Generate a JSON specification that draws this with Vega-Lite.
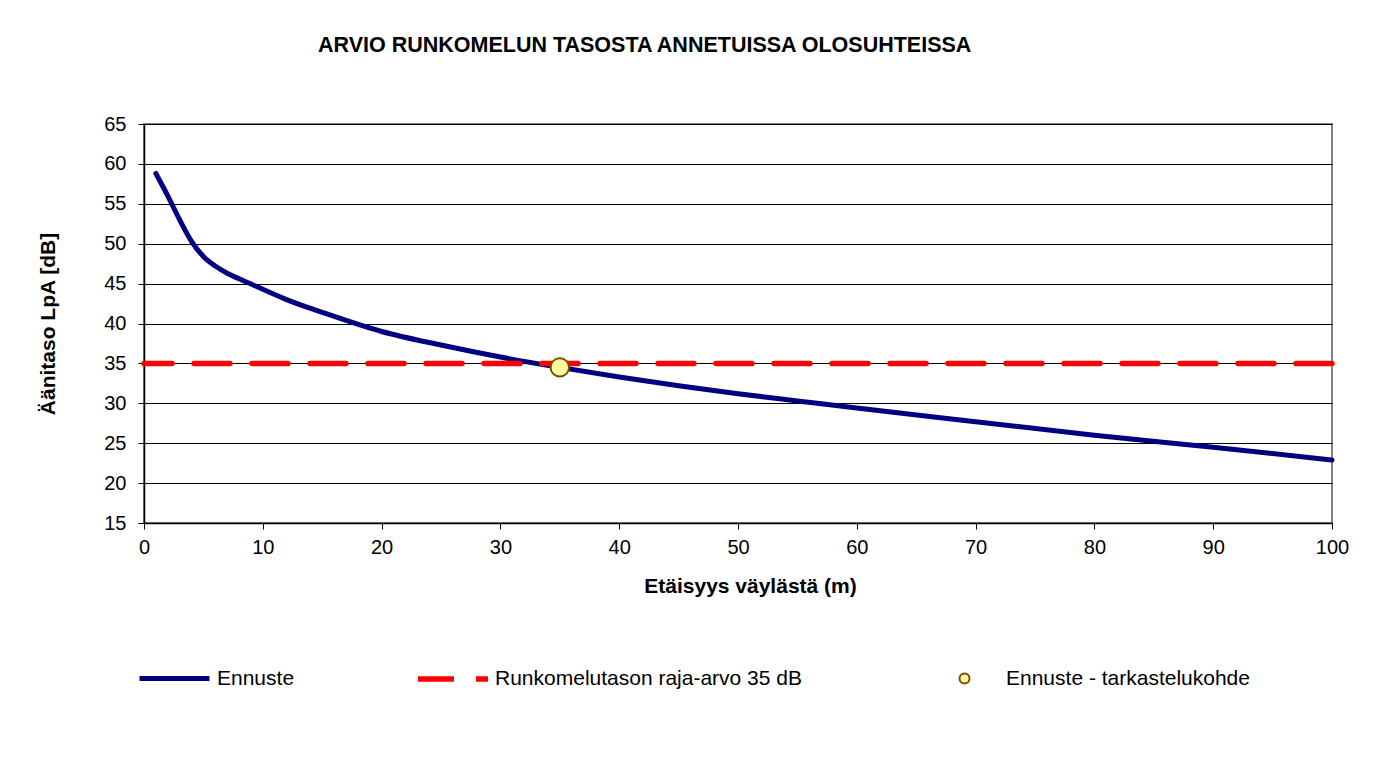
{
  "$schema": "https://vega.github.io/schema/vega-lite/v6.json",
  "autosize": {"type": "none"},
  "width": 1188,
  "height": 399,
  "padding": {"left": 144, "top": 124, "right": 56, "bottom": 236},
  "background": "#ffffff",
  "config": {
    "font": "Liberation Sans",
    "view": {"stroke": "#808080", "strokeWidth": 2},
    "axis": {
      "labelFont": "Liberation Sans",
      "labelFontSize": 20,
      "labelColor": "#000000",
      "labelFlush": false,
      "labelOverlap": false,
      "titleFont": "Liberation Sans",
      "titleFontSize": 21,
      "titleFontWeight": "bold",
      "titleColor": "#000000",
      "domainColor": "#000000",
      "domainWidth": 1.5,
      "tickColor": "#000000",
      "tickSize": 6,
      "gridColor": "#000000",
      "gridWidth": 1
    },
    "legend": {
      "labelFont": "Liberation Sans",
      "labelFontSize": 21,
      "labelColor": "#000000",
      "labelLimit": 600
    }
  },
  "title": {
    "text": "ARVIO RUNKOMELUN TASOSTA ANNETUISSA OLOSUHTEISSA",
    "anchor": "start",
    "frame": "group",
    "dx": 174,
    "offset": 58,
    "font": "Liberation Sans",
    "fontSize": 21.5,
    "fontWeight": "bold",
    "color": "#000000"
  },
  "layer": [
    {
      "data": {"values": [
        {"x": 1, "y": 58.8, "series": "Ennuste"},
        {"x": 2, "y": 56.0, "series": "Ennuste"},
        {"x": 3, "y": 53.0, "series": "Ennuste"},
        {"x": 4, "y": 50.3, "series": "Ennuste"},
        {"x": 5, "y": 48.4, "series": "Ennuste"},
        {"x": 6, "y": 47.2, "series": "Ennuste"},
        {"x": 7, "y": 46.3, "series": "Ennuste"},
        {"x": 8, "y": 45.6, "series": "Ennuste"},
        {"x": 10, "y": 44.3, "series": "Ennuste"},
        {"x": 12, "y": 43.0, "series": "Ennuste"},
        {"x": 15, "y": 41.4, "series": "Ennuste"},
        {"x": 20, "y": 39.0, "series": "Ennuste"},
        {"x": 25, "y": 37.3, "series": "Ennuste"},
        {"x": 30, "y": 35.8, "series": "Ennuste"},
        {"x": 35, "y": 34.5, "series": "Ennuste"},
        {"x": 40, "y": 33.3, "series": "Ennuste"},
        {"x": 45, "y": 32.2, "series": "Ennuste"},
        {"x": 50, "y": 31.2, "series": "Ennuste"},
        {"x": 55, "y": 30.3, "series": "Ennuste"},
        {"x": 60, "y": 29.4, "series": "Ennuste"},
        {"x": 70, "y": 27.7, "series": "Ennuste"},
        {"x": 80, "y": 26.0, "series": "Ennuste"},
        {"x": 90, "y": 24.5, "series": "Ennuste"},
        {"x": 100, "y": 22.9, "series": "Ennuste"}
      ]},
      "mark": {"type": "line", "strokeWidth": 5, "interpolate": "monotone", "strokeCap": "round"},
      "encoding": {
        "x": {
          "field": "x", "type": "quantitative",
          "scale": {"domain": [0, 100], "nice": false},
          "axis": {"values": [0, 10, 20, 30, 40, 50, 60, 70, 80, 90, 100], "grid": false, "title": "Etäisyys väylästä (m)", "labelPadding": 8, "titlePadding": 18, "titleX": 606, "labelOverlap": false}
        },
        "y": {
          "field": "y", "type": "quantitative",
          "scale": {"domain": [15, 65], "nice": false, "zero": false},
          "axis": {"values": [15, 20, 25, 30, 35, 40, 45, 50, 55, 60, 65], "grid": true, "title": "Äänitaso LpA [dB]", "labelPadding": 12, "titlePadding": 45, "labelOverlap": false}
        },
        "stroke": {
          "field": "series", "type": "nominal",
          "scale": {"domain": ["Ennuste"], "range": ["#000080"]},
          "legend": {"title": null, "orient": "none", "legendX": -7, "legendY": 517, "symbolType": "stroke", "symbolSize": 4900, "symbolStrokeWidth": 5, "labelOffset": 5}
        }
      }
    },
    {
      "data": {"values": [{"y": 35, "series": "Runkomelutason raja-arvo 35 dB"}]},
      "mark": {"type": "rule", "strokeWidth": 5.5, "strokeDash": [36, 22], "strokeCap": "round"},
      "encoding": {
        "y": {
          "field": "y", "type": "quantitative",
          "scale": {"domain": [15, 65], "nice": false, "zero": false},
          "axis": {"values": [15, 20, 25, 30, 35, 40, 45, 50, 55, 60, 65], "grid": true, "title": "Äänitaso LpA [dB]", "labelPadding": 12, "titlePadding": 45, "labelOverlap": false}
        },
        "stroke": {
          "field": "series", "type": "nominal",
          "scale": {"domain": ["Runkomelutason raja-arvo 35 dB"], "range": ["#FF0000"]},
          "legend": {"title": null, "orient": "none", "legendX": 271, "legendY": 517, "symbolType": "stroke", "symbolSize": 4900, "symbolStrokeWidth": 5.5, "symbolDash": [36, 22], "labelOffset": 4}
        }
      }
    },
    {
      "data": {"values": [{"x": 35, "y": 34.5, "series": "Ennuste - tarkastelukohde"}]},
      "mark": {"type": "point", "filled": true, "shape": "circle", "size": 340, "stroke": "#7F4A00", "strokeWidth": 2, "opacity": 1},
      "encoding": {
        "x": {
          "field": "x", "type": "quantitative",
          "scale": {"domain": [0, 100], "nice": false},
          "axis": {"values": [0, 10, 20, 30, 40, 50, 60, 70, 80, 90, 100], "grid": false, "title": "Etäisyys väylästä (m)", "labelPadding": 8, "titlePadding": 18, "titleX": 606, "labelOverlap": false}
        },
        "y": {
          "field": "y", "type": "quantitative",
          "scale": {"domain": [15, 65], "nice": false, "zero": false},
          "axis": {"values": [15, 20, 25, 30, 35, 40, 45, 50, 55, 60, 65], "grid": true, "title": "Äänitaso LpA [dB]", "labelPadding": 12, "titlePadding": 45, "labelOverlap": false}
        },
        "fill": {
          "field": "series", "type": "nominal",
          "scale": {"domain": ["Ennuste - tarkastelukohde"], "range": ["#FFFF99"]},
          "legend": {"title": null, "orient": "none", "legendX": 810, "legendY": 544, "symbolType": "circle", "symbolSize": 100, "symbolStrokeColor": "#7F4A00", "symbolStrokeWidth": 2, "symbolOpacity": 1, "labelOffset": 31}
        }
      }
    }
  ],
  "resolve": {"scale": {"stroke": "independent", "fill": "independent"}, "legend": {"stroke": "independent"}}
}
